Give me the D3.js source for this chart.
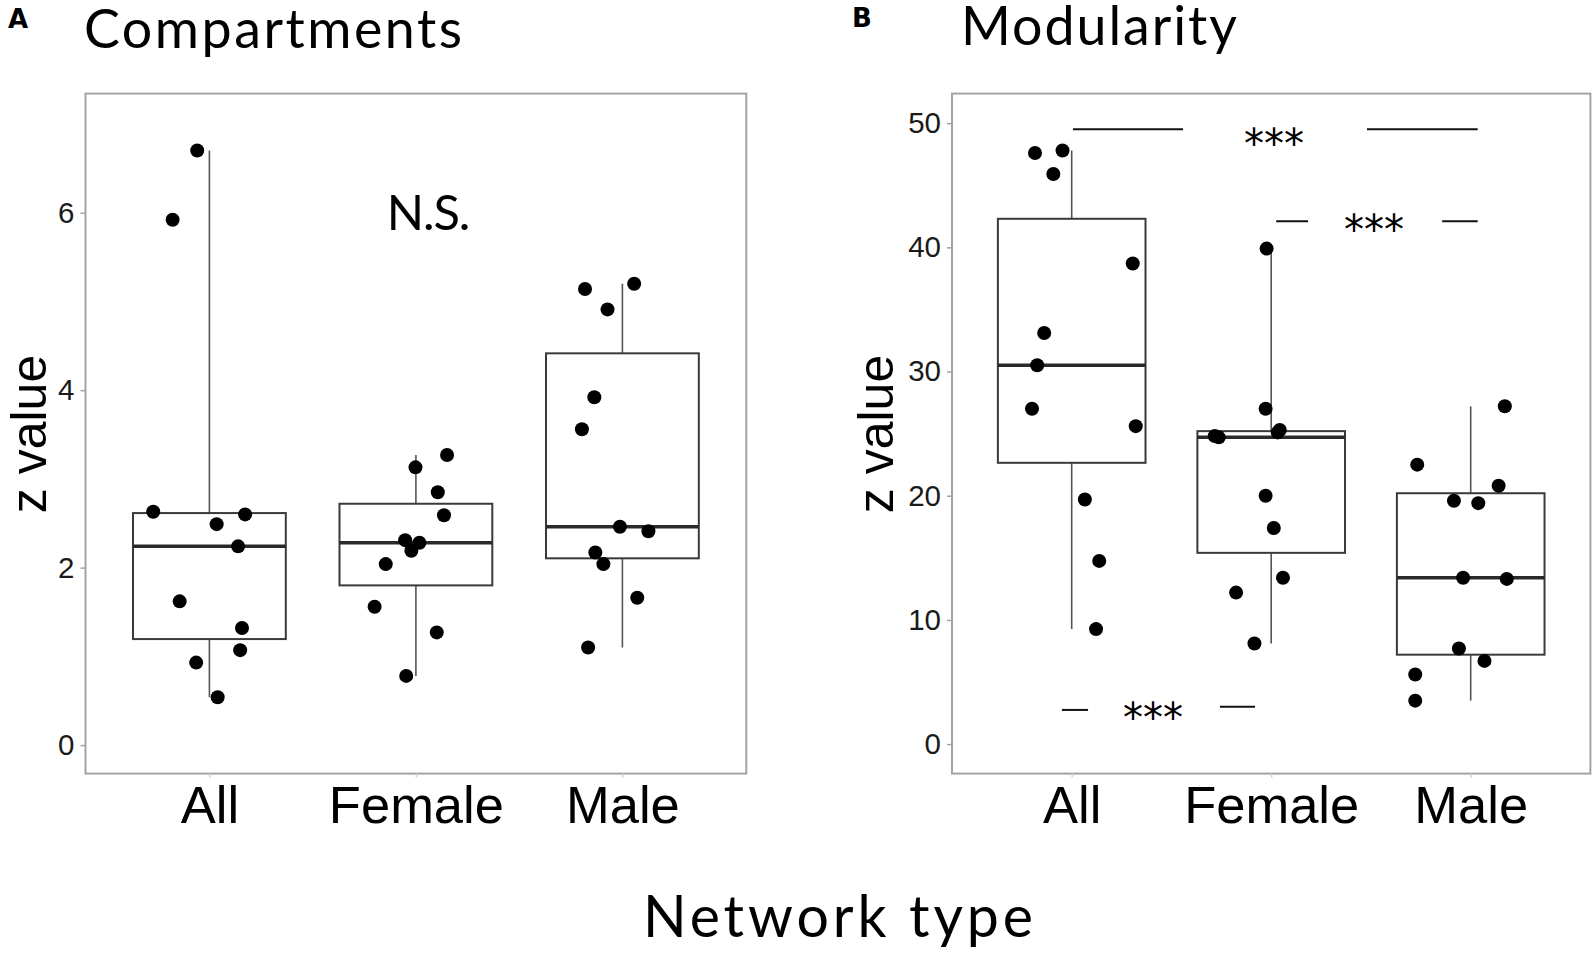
<!DOCTYPE html>
<html>
<head>
<meta charset="utf-8">
<script src="https://cdn.jsdelivr.net/npm/d3@7"></script>
<style>
  html, body { margin: 0; padding: 0; background: #fff; }
  svg { display: block; }
</style>
</head>
<body>
<svg id="chart" width="1596" height="961"></svg>
<script>
// ---------------- DATA ----------------
const categories = ["All", "Female", "Male"];

// Panel A: Compartments (z values)
const compAll    = [5.92, 6.70, 2.63, 2.49, 2.60, 2.24, 1.62, 1.32, 1.07, 0.93, 0.54];
const compFemale = [2.31, 2.28, 2.19, 2.04, 1.56, 1.27, 0.78, 3.13, 3.27, 2.85, 2.59];
const compMale   = [5.14, 5.20, 4.91, 3.92, 3.56, 2.46, 2.41, 2.17, 2.04, 1.66, 1.10];
// horizontal jitter of each point, in category units
const compAllJitter    = [-0.178, -0.059, -0.272, 0.035, 0.173, 0.139, -0.144, 0.158, 0.149, -0.064, 0.040];
const compFemaleJitter = [-0.052, 0.017, -0.022, -0.146, -0.200, 0.101, -0.047, -0.002, 0.151, 0.106, 0.136];
const compMaleJitter   = [-0.181, 0.057, -0.072, -0.136, -0.196, -0.012, 0.126, -0.131, -0.092, 0.072, -0.166];
const compTicks = [0, 2, 4, 6];

// Panel B: Modularity (z values)
const modAll    = [47.6, 47.8, 45.9, 38.7, 33.1, 30.5, 27.0, 25.6, 19.7, 14.75, 9.26];
const modFemale = [39.9, 27.0, 24.8, 24.7, 25.3, 25.1, 20.0, 17.4, 12.2, 13.4, 8.1];
const modMale   = [22.5, 27.2, 20.8, 19.6, 19.4, 13.4, 13.3, 7.7, 6.7, 5.6, 3.5];
const modAllJitter    = [-0.184, -0.046, -0.092, 0.306, -0.138, -0.173, -0.199, 0.321, 0.066, 0.138, 0.122];
const modFemaleJitter = [-0.023, -0.028, -0.283, -0.263, 0.043, 0.033, -0.028, 0.013, -0.176, 0.059, -0.084];
const modMaleJitter   = [-0.268, 0.171, 0.140, -0.084, 0.038, -0.038, 0.181, -0.059, 0.069, -0.278, -0.278];
const modTicks = [0, 10, 20, 30, 40, 50];

// Significance marks for panel B (category-index units, value units)
const sigLabels   = ["***", "***", "***"];
const sigTextX    = [1.014, 1.515, 0.408];
const sigTextY    = [49.0, 42.1, 2.75];
const sigSegments = [
  [[0.0065, 0.558, 49.5], [1.48, 2.035, 49.5]],
  [[1.025, 1.185, 42.1], [1.857, 2.035, 42.1]],
  [[-0.049, 0.082, 2.75], [0.743, 0.919, 3.0]]
];

const panelTitles = ["Compartments", "Modularity"];
const panelLetters = ["A", "B"];
const yAxisTitle = "z value";
const xAxisTitle = "Network type";
const nsLabel = "N.S.";

// ---------------- LAYOUT ----------------
const svg = d3.select("#chart");
const titleFont = "Lato, 'Open Sans', sans-serif";
const axisFont = "'Liberation Sans', Arial, sans-serif";
const LATO_CAP = 0.7165;

const panels = [
  {
    left: 85.5, right: 746.3, top: 93.6, bottom: 773.6,
    yDomain: [-0.321, 7.342], ticks: compTicks,
    series: [compAll, compFemale, compMale],
    jitter: [compAllJitter, compFemaleJitter, compMaleJitter],
    title: panelTitles[0], titleX: 84, titleY: 48, titleW: 378, titleCap: 38.5,
    letter: panelLetters[0], letterX: 8, letterY: 28,
    yTitleX: 46
  },
  {
    left: 952, right: 1590.4, top: 93.6, bottom: 773.6,
    yDomain: [-2.376, 52.38], ticks: modTicks,
    series: [modAll, modFemale, modMale],
    jitter: [modAllJitter, modFemaleJitter, modMaleJitter],
    title: panelTitles[1], titleX: 961, titleY: 45, titleW: 276, titleCap: 38.5,
    letter: panelLetters[1], letterX: 852, letterY: 27,
    yTitleX: 893
  }
];

function fitText(sel, targetWidth) {
  const node = sel.node();
  sel.attr("font-size", 100);
  const w = node.getComputedTextLength();
  sel.attr("font-size", (100 * targetWidth / w).toFixed(2));
}
// size by cap height, then adjust letter spacing to reach the target width
function fitCapWidth(sel, capHeight, targetWidth) {
  const fs = capHeight / LATO_CAP;
  sel.attr("font-size", fs.toFixed(2)).attr("letter-spacing", 0);
  const w = sel.node().getComputedTextLength();
  const n = sel.text().length;
  const ls = (targetWidth - w) / Math.max(1, n - 1);
  sel.attr("letter-spacing", ls.toFixed(2));
}

const frameColor = "#a3a3a3";
const boxColor = "#3a3a3a";

panels.forEach((p, pi) => {
  const g = svg.append("g");
  const x = d3.scalePoint().domain(categories).range([p.left, p.right]).padding(0.6);
  const step = x.step();
  const xi = d3.scaleLinear().domain([0, 1]).range([x(categories[0]), x(categories[1])]);
  const y = d3.scaleLinear().domain(p.yDomain).range([p.bottom, p.top]);

  // frame
  g.append("rect")
    .attr("x", p.left).attr("y", p.top)
    .attr("width", p.right - p.left).attr("height", p.bottom - p.top)
    .attr("fill", "none").attr("stroke", frameColor).attr("stroke-width", 2);

  // y axis
  const yAxis = d3.axisLeft(y).tickValues(p.ticks).tickSize(5).tickPadding(6).tickFormat(d3.format("d"));
  const ya = g.append("g").attr("transform", `translate(${p.left},0)`).call(yAxis);
  ya.select(".domain").remove();
  ya.selectAll(".tick line").attr("stroke", frameColor).attr("stroke-width", 1.5);
  ya.selectAll(".tick text").attr("font-family", axisFont).attr("font-size", 29.5).attr("fill", "#1a1a1a");

  // x axis
  const xAxis = d3.axisBottom(x).tickSize(4).tickPadding(10);
  const xa = g.append("g").attr("transform", `translate(0,${p.bottom})`).call(xAxis);
  xa.select(".domain").remove();
  xa.selectAll(".tick line").attr("stroke", "#d0d0d0").attr("stroke-width", 1.5);
  xa.selectAll(".tick text").attr("font-family", axisFont).attr("font-size", 52.5).attr("fill", "#000")
    .attr("dy", null).attr("y", 49);

  // boxplots
  const boxW = 0.74 * step;
  p.series.forEach((vals, ci) => {
    const sorted = vals.slice().sort(d3.ascending);
    const q1 = d3.quantile(sorted, 0.25);
    const med = d3.quantile(sorted, 0.5);
    const q3 = d3.quantile(sorted, 0.75);
    const [mn, mx] = d3.extent(sorted);
    const cx = x(categories[ci]);
    const bg = g.append("g");
    bg.append("line").attr("x1", cx).attr("x2", cx).attr("y1", y(q3)).attr("y2", y(mx))
      .attr("stroke", "#555").attr("stroke-width", 1.6);
    bg.append("line").attr("x1", cx).attr("x2", cx).attr("y1", y(q1)).attr("y2", y(mn))
      .attr("stroke", "#555").attr("stroke-width", 1.6);
    bg.append("rect").attr("x", cx - boxW / 2).attr("y", y(q3))
      .attr("width", boxW).attr("height", y(q1) - y(q3))
      .attr("fill", "#fff").attr("stroke", boxColor).attr("stroke-width", 2);
    bg.append("line").attr("x1", cx - boxW / 2).attr("x2", cx + boxW / 2)
      .attr("y1", y(med)).attr("y2", y(med))
      .attr("stroke", "#2a2a2a").attr("stroke-width", 3.5);
  });

  // points
  p.series.forEach((vals, ci) => {
    g.append("g").selectAll("circle").data(vals).join("circle")
      .attr("cx", (d, i) => x(categories[ci]) + p.jitter[ci][i] * step)
      .attr("cy", d => y(d))
      .attr("r", 7)
      .attr("fill", "#000");
  });

  // panel title
  const t = g.append("text").attr("x", p.titleX).attr("y", p.titleY)
    .attr("font-family", titleFont).attr("fill", "#000").text(p.title);
  fitCapWidth(t, p.titleCap, p.titleW);

  // panel letter
  g.append("text").attr("x", p.letterX).attr("y", p.letterY)
    .attr("font-family", "'DejaVu Sans', sans-serif").attr("font-weight", "bold").attr("font-size", 26)
    .attr("fill", "#000").text(p.letter);

  // y axis title
  g.append("text")
    .attr("transform", `translate(${p.yTitleX},${434}) rotate(-90)`)
    .attr("text-anchor", "middle")
    .attr("font-family", axisFont).attr("font-size", 50).attr("fill", "#000")
    .text(yAxisTitle);

  p.x = x; p.y = y; p.xi = xi; p.g = g;
});

// N.S. label in panel A
{
  const pa = panels[0];
  const t = pa.g.append("text").attr("x", 386.8).attr("y", 230)
    .attr("font-family", titleFont).attr("fill", "#000").text(nsLabel);
  fitCapWidth(t, 35, 83.5);
}

// significance marks in panel B
{
  const pb = panels[1];
  sigSegments.forEach((segs, si) => {
    segs.forEach(s => {
      pb.g.append("line")
        .attr("x1", pb.xi(s[0])).attr("x2", pb.xi(s[1]))
        .attr("y1", pb.y(s[2])).attr("y2", pb.y(s[2]))
        .attr("stroke", "#111").attr("stroke-width", 2);
    });
    const t = pb.g.append("text")
      .attr("x", pb.xi(sigTextX[si]))
      .attr("text-anchor", "middle")
      .attr("font-family", "'DejaVu Sans', sans-serif").attr("fill", "#000").text(sigLabels[si]);
    fitText(t, 60);
    const fs = +t.attr("font-size");
    t.attr("y", pb.y(sigTextY[si]) + 0.56 * fs);
  });
}

// shared x axis title
{
  const t = svg.append("text").attr("x", 643).attr("y", 937)
    .attr("font-family", titleFont).attr("fill", "#000").text(xAxisTitle);
  fitCapWidth(t, 41, 390);
}
</script>
</body>
</html>
